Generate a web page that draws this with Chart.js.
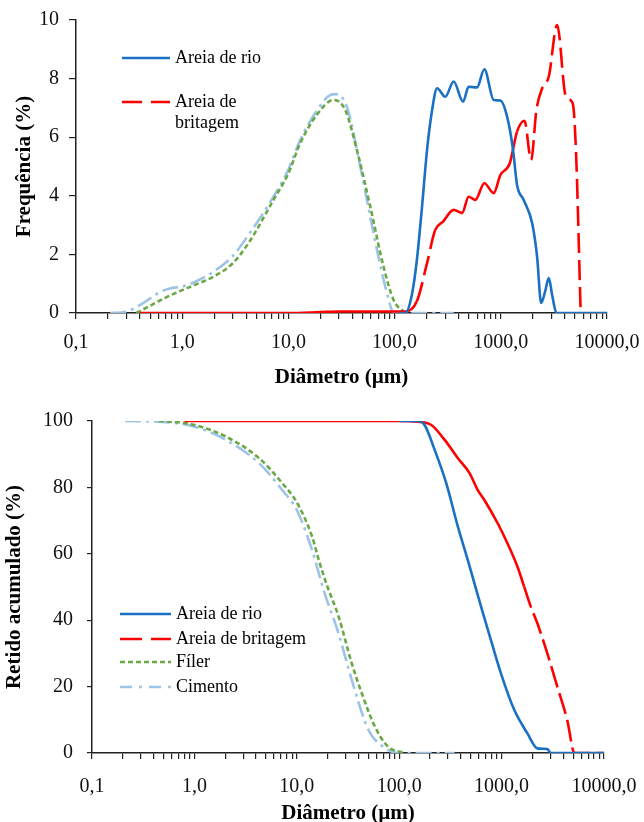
<!DOCTYPE html>
<html>
<head>
<meta charset="utf-8">
<script src="https://cdn.jsdelivr.net/npm/chart.js@4.4.1/dist/chart.umd.min.js"></script>
<style>
  html, body { margin: 0; padding: 0; background: #fff; overflow: hidden; }
  #wrapTop { position: absolute; left: 0; top: 0; }
  #wrapBottom { position: absolute; left: 0; top: 400px; }
</style>
</head>
<body>
<div id="wrapTop"><canvas id="freqChart" width="644" height="400"></canvas></div>
<div id="wrapBottom"><canvas id="cumChart" width="644" height="440"></canvas></div>
<script>
// Nomes das séries e eixos
const seriesNames = ['Areia de rio', 'Areia de britagem', 'Fíler', 'Cimento'];
const xDecades = [0.1, 1, 10, 100, 1000, 10000];
const xTickLabels = ['0,1', '1,0', '10,0', '100,0', '1000,0', '10000,0'];
const freqTicks = [0, 2, 4, 6, 8, 10];
const cumTicks = [0, 20, 40, 60, 80, 100];

// Frequência (%) - diâmetros em µm
const freqRioD = [110, 126, 145, 162, 182, 202, 225, 251, 300, 360, 441, 498, 597, 700, 857, 991, 1146, 1305, 1422, 1643, 1972, 2197, 2398, 2600, 2831, 3050, 3342, 10000];
const freqRioV = [0, 0, 0.6, 1.8, 3.7, 5.56, 6.9, 7.67, 7.38, 7.9, 7.21, 7.72, 7.7, 8.32, 7.27, 7.25, 6.7, 5.56, 4.37, 3.86, 3.07, 1.92, 0.34, 0.7, 1.19, 0.6, 0, 0];

const freqBrD = [0.4, 10, 20, 30, 60, 100, 126, 162, 202, 241, 286, 360, 432, 498, 575, 700, 857, 991, 1215, 1422, 1671, 1930, 2165, 2454, 2831, 3390, 4104, 4750, 5100, 5650];
const freqBrV = [0, 0, 0.03, 0.05, 0.05, 0.05, 0.05, 0.4, 1.7, 2.83, 3.12, 3.52, 3.41, 3.97, 3.86, 4.43, 4.09, 4.71, 5.11, 6.19, 6.56, 5.22, 6.93, 7.67, 8.07, 9.83, 7.38, 7.16, 5.56, 0];

const freqFilD = [0.37, 0.5, 0.72, 1.0, 1.3, 1.97, 3, 4.2, 7.24, 10, 12.9, 18.5, 26.6, 34.3, 44.2, 59, 78.7, 98, 126];
const freqFilV = [0, 0.25, 0.55, 0.78, 0.95, 1.24, 1.7, 2.38, 3.86, 4.77, 5.79, 6.76, 7.27, 6.93, 5.56, 3.63, 1.58, 0.44, 0];

const freqCimD = [0.21, 0.3, 0.4, 0.5, 0.62, 0.8, 1.0, 1.3, 1.97, 3, 4.2, 7.24, 10, 12.9, 18.5, 24.8, 28, 35.5, 47.5, 63.4, 81.7, 99.3, 130, 360];
const freqCimV = [0, 0.05, 0.27, 0.5, 0.72, 0.85, 0.9, 1.05, 1.41, 1.95, 2.66, 3.97, 4.9, 5.9, 6.9, 7.44, 7.47, 7.04, 5.0, 2.72, 0.9, 0, 0, 0];

// Retido acumulado (%)
const cumRioD = [100, 153, 177, 222, 288, 374, 468, 630, 787, 985, 1328, 1787, 2239, 2797, 3016, 10000];
const cumRioV = [100, 100, 98.8, 91.3, 81.3, 68.2, 58.1, 44.1, 34, 24, 13, 5.9, 1.4, 1.2, 0, 0];

const cumBrD = [0.8, 100, 153, 206, 278, 374, 486, 585, 679, 915, 1143, 1429, 1660, 1927, 2239, 2797, 3500, 4375, 5150, 10000];
const cumBrV = [100, 100, 99.8, 98.8, 94.3, 88.8, 84.3, 79.2, 76.2, 69.2, 63.1, 56.1, 50.1, 44.1, 39, 30, 20, 9.9, 0, 0];

const cumFilD = [0.45, 0.7, 1.0, 2.03, 4.28, 7.2, 10, 14.1, 16.4, 19.7, 25.6, 34.4, 43.1, 58, 78, 113];
const cumFilV = [100, 99.6, 98.8, 95.3, 88.8, 81.3, 75.5, 65.2, 58.1, 50.5, 41.1, 27, 18, 7.9, 1.9, 0];

const cumCimD = [0.21, 0.5, 1.0, 2.03, 4.28, 7.2, 10, 14.1, 18.3, 25.6, 34.4, 50, 72.6, 100, 347];
const cumCimV = [100, 99.7, 98.3, 94.3, 87.3, 79.2, 73.2, 61.1, 49, 36, 22, 7, 1.5, 0, 0];

// Cores e estilos
const colRio = '#1A70C2';
const colBr = '#FF0000';
const colFil = '#6AA845';
const colCim = '#9DC3E6';
const serif = '"Liberation Serif", "Times New Roman", serif';

function pts(xs, ys) {
    return xs.map((x, i) => ({ x: x, y: ys[i] }));
}

// Todas as marcas 1..9 por década
const xAllTicks = [];
xDecades.forEach((d, i) => {
    if (i === xDecades.length - 1) { xAllTicks.push(d); return; }
    for (let m = 1; m <= 9; m++) xAllTicks.push(m === 1 ? d : d * m);
});

// Legenda desenhada dentro da área do gráfico
const lineLegend = {
    id: 'lineLegend',
    afterDraw(chart, args, opts) {
        const ctx = chart.ctx;
        ctx.save();
        ctx.font = '18px ' + serif;
        ctx.textBaseline = 'middle';
        ctx.textAlign = 'left';
        opts.items.forEach(it => {
            const ds = chart.data.datasets[it.ds];
            ctx.strokeStyle = ds.borderColor;
            ctx.lineWidth = 2.5;
            ctx.setLineDash(it.dash);
            ctx.beginPath();
            ctx.moveTo(opts.x0, it.y);
            ctx.lineTo(opts.x1, it.y);
            ctx.stroke();
            ctx.fillStyle = '#000';
            const lines = it.wrap ? ds.label.replace(/ (\S+)$/, '\n$1').split('\n') : [ds.label];
            lines.forEach((t, k) => ctx.fillText(t, opts.tx, it.y + k * 21));
        });
        ctx.restore();
    }
};

function xScale(tickPad, titlePadBottom, axisH) {
    return {
        type: 'logarithmic',
        min: 0.1,
        max: 10000,
        afterBuildTicks: s => { s.ticks = xAllTicks.map(v => ({ value: v })); },
        afterFit: s => { s.height = axisH; s.paddingLeft = 0; s.paddingRight = 0; },
        border: { color: '#222', width: 1.5 },
        grid: { drawOnChartArea: false, drawTicks: true, tickLength: 6, color: '#222', lineWidth: 1.2 },
        ticks: {
            autoSkip: false,
            maxRotation: 0,
            padding: tickPad,
            color: '#111',
            font: { family: serif, size: 20 },
            callback: v => {
                const i = xDecades.indexOf(v);
                return i >= 0 ? xTickLabels[i] : '';
            }
        },
        title: {
            display: true,
            text: 'Diâmetro (µm)',
            color: '#000',
            font: { family: serif, size: 21, weight: 'bold' },
            padding: { top: 0, bottom: titlePadBottom }
        }
    };
}

function yScale(max, tickVals, width, tickLen, tickPad, title, titlePad) {
    return {
        min: 0,
        max: max,
        afterBuildTicks: s => { s.ticks = tickVals.map(v => ({ value: v })); },
        afterFit: s => { s.width = width; s.paddingTop = 0; s.paddingBottom = 0; },
        border: { color: '#222', width: 1.5 },
        grid: { drawOnChartArea: false, drawTicks: true, tickLength: tickLen, color: '#222', lineWidth: 1.2 },
        ticks: {
            padding: tickPad,
            color: '#111',
            font: { family: serif, size: 20 }
        },
        title: {
            display: true,
            text: title,
            color: '#000',
            font: { family: serif, size: 21, weight: 'bold' },
            padding: { top: titlePad, bottom: 0 }
        }
    };
}

const commonLine = { pointRadius: 0, borderWidth: 2.6, fill: false, cubicInterpolationMode: 'monotone' };

// Gráfico de frequência
new Chart(document.getElementById('freqChart'), {
    type: 'line',
    data: {
        datasets: [
            Object.assign({ label: seriesNames[0], data: pts(freqRioD, freqRioV), borderColor: colRio }, commonLine),
            Object.assign({
                label: seriesNames[1], data: pts(freqBrD, freqBrV), borderColor: colBr,
                segment: {
                    borderDash: c => {
                        const x = c.p0.parsed.x;
                        return (x >= 150 && x < 240) || x >= 1400 ? [20, 7] : [];
                    }
                }
            }, commonLine),
            Object.assign({ label: seriesNames[2], data: pts(freqFilD, freqFilV), borderColor: colFil, borderDash: [5, 3] }, commonLine),
            Object.assign({ label: seriesNames[3], data: pts(freqCimD, freqCimV), borderColor: colCim, borderDash: [16, 5, 3, 5] }, commonLine)
        ]
    },
    options: {
        responsive: false,
        animation: false,
        devicePixelRatio: 1,
        layout: { padding: { top: 20, right: 37, left: 0, bottom: 0 } },
        scales: {
            x: xScale(12, 10, 87),
            y: yScale(10, freqTicks, 76, 7, 10, 'Frequência (%)', 12)
        },
        plugins: {
            legend: { display: false },
            tooltip: { enabled: false },
            lineLegend: {
                x0: 122, x1: 170, tx: 175,
                items: [
                    { ds: 0, y: 58, dash: [] },
                    { ds: 1, y: 102, dash: [20, 9], wrap: true }
                ]
            }
        }
    },
    plugins: [lineLegend]
});

// Gráfico de retido acumulado
new Chart(document.getElementById('cumChart'), {
    type: 'line',
    data: {
        datasets: [
            Object.assign({ label: seriesNames[0], data: pts(cumRioD, cumRioV), borderColor: colRio }, commonLine),
            Object.assign({
                label: seriesNames[1], data: pts(cumBrD, cumBrV), borderColor: colBr,
                segment: { borderDash: c => c.p0.parsed.x >= 1600 ? [22, 6] : [] }
            }, commonLine),
            Object.assign({ label: seriesNames[2], data: pts(cumFilD, cumFilV), borderColor: colFil, borderDash: [5, 3] }, commonLine),
            Object.assign({ label: seriesNames[3], data: pts(cumCimD, cumCimV), borderColor: colCim, borderDash: [16, 5, 3, 5] }, commonLine)
        ]
    },
    options: {
        responsive: false,
        animation: false,
        devicePixelRatio: 1,
        layout: { padding: { top: 21, right: 40, left: 0, bottom: 0 } },
        scales: {
            x: xScale(16, 14, 87),
            y: yScale(100, cumTicks, 92, 5, 14, 'Retido acumulado (%)', 2)
        },
        plugins: {
            legend: { display: false },
            tooltip: { enabled: false },
            lineLegend: {
                x0: 120, x1: 171, tx: 176,
                items: [
                    { ds: 0, y: 214, dash: [] },
                    { ds: 1, y: 239, dash: [22, 9] },
                    { ds: 2, y: 262, dash: [5, 3] },
                    { ds: 3, y: 287, dash: [12, 7, 3, 7] }
                ]
            }
        }
    },
    plugins: [lineLegend]
});
</script>
</body>
</html>
